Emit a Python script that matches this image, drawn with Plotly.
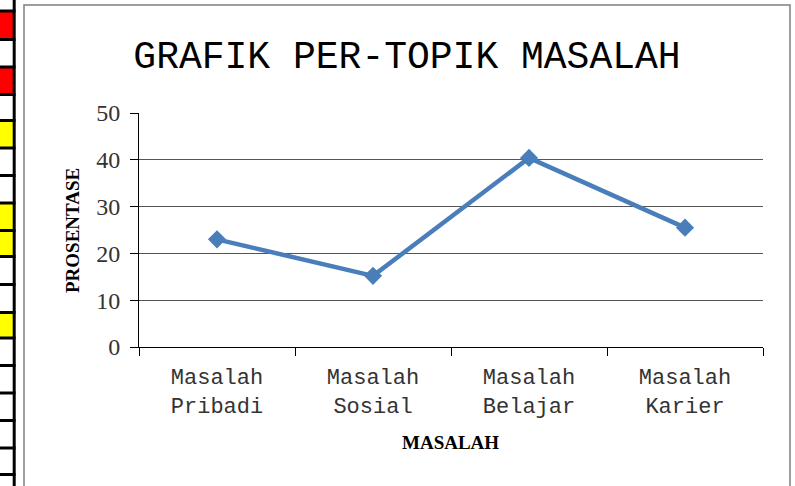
import plotly.graph_objects as go

# ---- data ----
categories = ["Masalah<br>Pribadi", "Masalah<br>Sosial", "Masalah<br>Belajar", "Masalah<br>Karier"]
values = [23.0, 15.2, 40.4, 25.5]
y_ticks = [0, 10, 20, 30, 40, 50]
title_text = "GRAFIK PER-TOPIK MASALAH"
y_title = "PROSENTASE"
x_title = "MASALAH"

# spreadsheet strip decoration (cell fill colours, top to bottom)
strip_fills = ["#FFFFFF", "#FF0000", "#FFFFFF", "#FF0000", "#FFFFFF", "#FFFF00", "#FFFFFF",
               "#FFFFFF", "#FFFF00", "#FFFF00", "#FFFFFF", "#FFFFFF", "#FFFF00", "#FFFFFF",
               "#FFFFFF", "#FFFFFF", "#FFFFFF", "#FFFFFF", "#FFFFFF"]
strip_lines = [11, 39.5, 67, 94.5, 120.5, 148, 175.5, 203, 230.5, 256.5, 284.5,
               312.5, 338, 365.5, 393, 420.5, 448, 474.5]

W, H = 795, 486
ML, MR, MT, MB = 139, 32, 113, 139
PW, PH = W - ML - MR, H - MT - MB


def px(x):
    return (x - ML) / PW


def py(y):
    return (H - MB - y) / PH


fig = go.Figure()
fig.add_trace(go.Scatter(
    x=categories, y=values, mode="lines+markers",
    line=dict(color="#4A7EBB", width=4.5),
    marker=dict(symbol="diamond", size=14, color="#4A7EBB"),
    showlegend=False, cliponaxis=False,
))

shapes = []
# chart border
shapes.append(dict(type="rect", xref="paper", yref="paper",
                   x0=px(24), x1=px(790), y0=py(495), y1=py(5),
                   line=dict(color="#7F7F7F", width=1.5), fillcolor="rgba(0,0,0,0)", layer="below"))
# spreadsheet strip
bounds = [0] + strip_lines + [H + 5]
for i, c in enumerate(strip_fills[:len(bounds) - 1]):
    shapes.append(dict(type="rect", xref="paper", yref="paper",
                       x0=px(0), x1=px(13), y0=py(bounds[i + 1]), y1=py(bounds[i]),
                       line=dict(width=0), fillcolor=c, layer="below"))
for yl in strip_lines:
    shapes.append(dict(type="line", xref="paper", yref="paper",
                       x0=px(0), x1=px(15.5), y0=py(yl), y1=py(yl),
                       line=dict(color="#000000", width=3)))
shapes.append(dict(type="line", xref="paper", yref="paper",
                   x0=px(14.2), x1=px(14.2), y0=py(H + 5), y1=py(-5),
                   line=dict(color="#000000", width=3)))

fig.update_layout(
    width=W, height=H,
    margin=dict(l=ML, r=MR, t=MT, b=MB),
    paper_bgcolor="white", plot_bgcolor="white",
    title=dict(text=title_text, x=407 / W, xref="container", xanchor="center",
               y=1 - 55 / H, yref="container", yanchor="middle",
               font=dict(family="Liberation Mono", size=38, color="#000000")),
    shapes=shapes,
    annotations=[
        dict(text=y_title, xref="paper", yref="paper", x=px(72), y=py(231),
             showarrow=False, textangle=-90, xanchor="center", yanchor="middle",
             font=dict(family="Liberation Serif", size=19, color="#000000", weight="bold")),
        dict(text=x_title, xref="paper", yref="paper", x=px(450), y=py(442),
             showarrow=False, xanchor="center", yanchor="middle",
             font=dict(family="Liberation Serif", size=19, color="#000000", weight="bold")),
    ],
)
fig.update_xaxes(
    type="category", range=[-0.5, 3.5], showgrid=False,
    showline=True, linecolor="#000000", linewidth=1,
    ticks="outside", tickson="boundaries", ticklen=8, tickcolor="#000000",
    tickfont=dict(family="Liberation Mono", size=22, color="#333333"),
    ticklabelstandoff=10,
    zeroline=False,
)
fig.update_yaxes(
    range=[0, 50], tickvals=y_ticks, showgrid=True, gridcolor="#555555", gridwidth=1,
    showline=True, linecolor="#000000", linewidth=1,
    ticks="outside", ticklen=8, tickcolor="#000000",
    tickfont=dict(family="Liberation Serif", size=24, color="#333333"),
    ticklabelstandoff=5,
    zeroline=False,
)

fig.write_html("out.html", config={"displayModeBar": False},
               post_script="document.body.style.margin='0px';")
